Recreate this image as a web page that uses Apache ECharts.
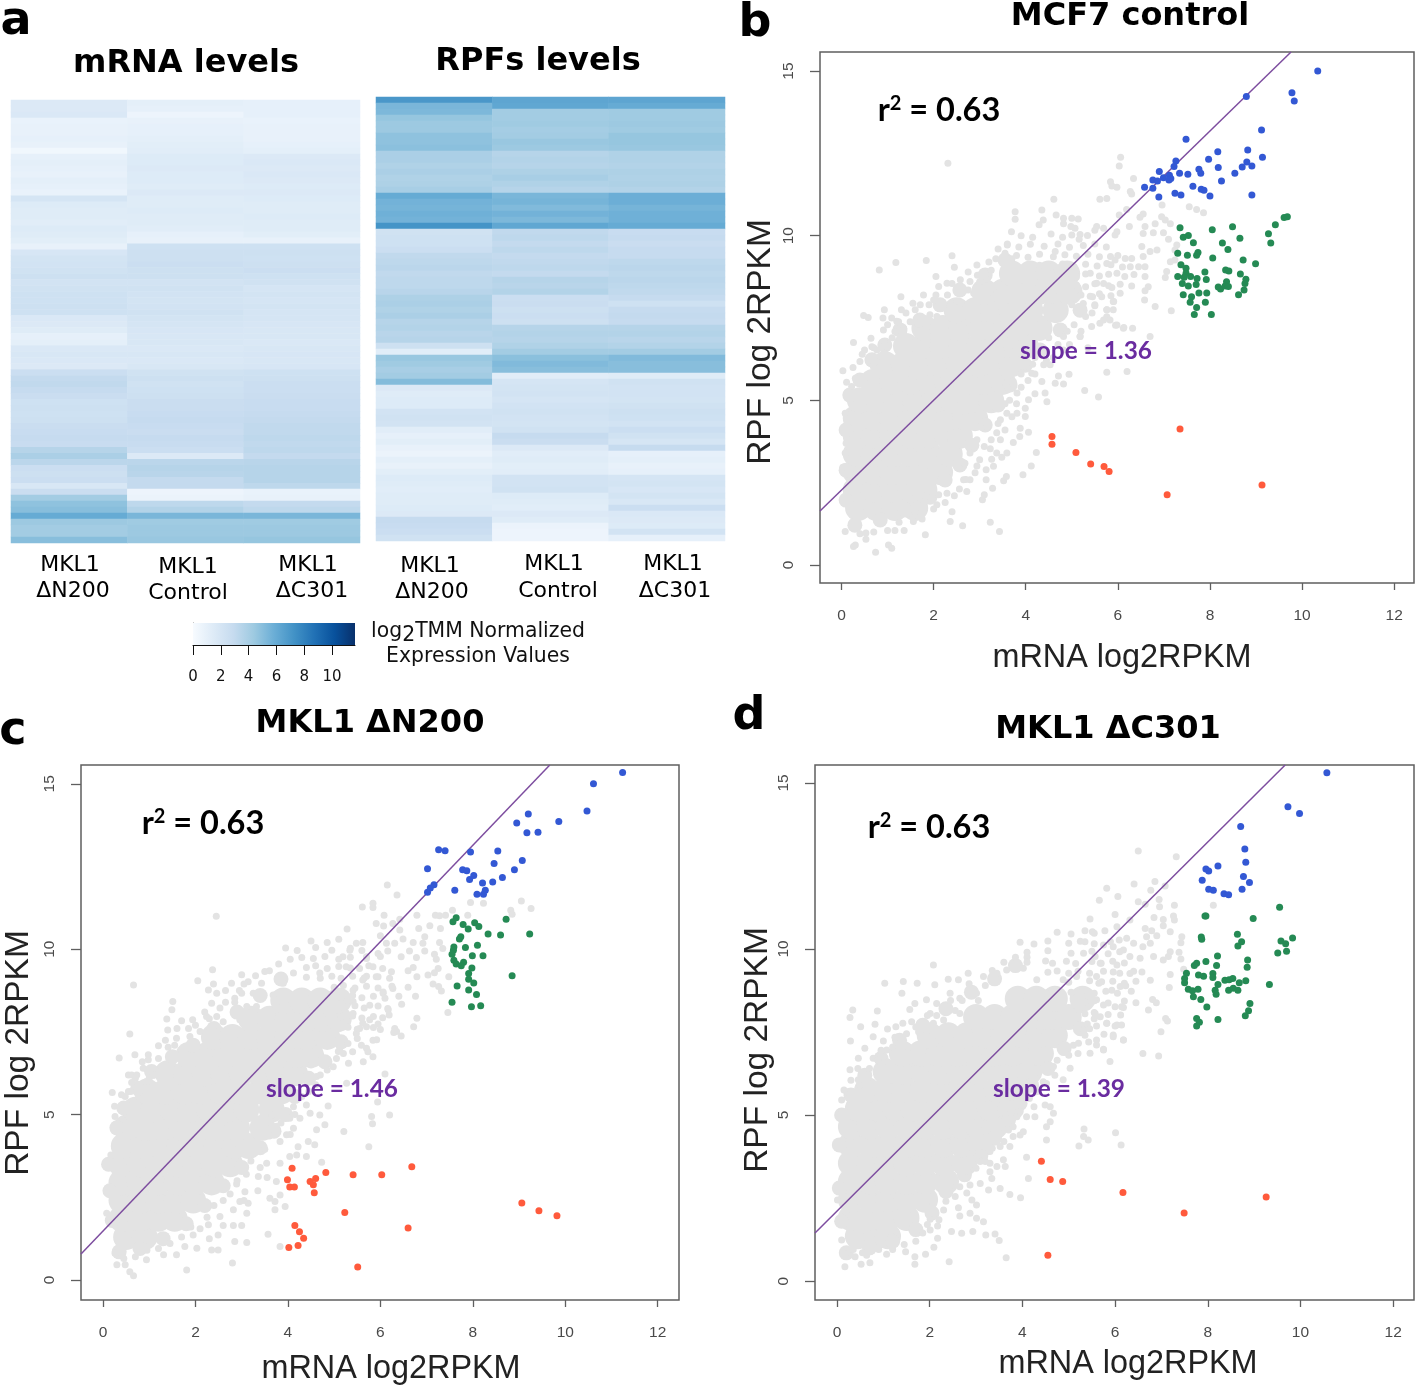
<!DOCTYPE html>
<html><head><meta charset="utf-8">
<style>html,body{margin:0;padding:0;background:#fff}#c{width:1418px;height:1387px}</style>
<script src="https://cdn.jsdelivr.net/npm/echarts@6/dist/echarts.min.js"></script>
</head><body><div id="c"></div>
<script>
// ---------- Panel a: heatmap values (rows top to bottom) ----------
const conditions = ['MKL1 ΔN200','MKL1 Control','MKL1 ΔC301'];
const mrnaN200 = [1.6,1.6,1.7,.8,.9,.9,1,.9,.4,1,1.1,1,.9,1.1,1,.8,2,1.5,1.4,1.4,1.3,1.5,1.4,1.2,.9,1.9,2.1,2.2,2.3,2.5,2.2,2.3,2.4,2.4,2.5,2.4,1.7,1.6,1.4,1,1.1,1.7,1.8,1.7,1.6,2.6,3,3.1,2.9,2.7,2.4,2.5,2.4,2.5,2.7,2.8,2.9,2.8,3.5,3.9,3.3,2.6,2.5,2.6,1.8,2.7,4.2,4.8,5,6,4.4,4.2,4.2,5];
const mrnaControl = [1.1,1,.6,.9,1,1,1.1,1.2,1.3,1.5,1.5,1.6,1.5,1.5,1.4,1.6,1.4,1.4,1.5,1.4,1.4,1.3,1,.9,2.4,2.5,2.5,2.6,2.5,2.5,2.2,2.3,2.2,2.1,2.2,2.3,2.1,2,1.9,1.8,1.8,1.7,1.8,1.7,1.8,2.3,2.5,2.3,2.4,2.5,2.7,2.7,2.8,2.9,2.8,2.7,2.9,2.8,2.6,1.6,3.3,3.5,3.4,3,3,.6,.7,3.2,3.6,5.4,4.3,4.4,4.4,4.5];
const mrnaC301 = [1,1,1,.8,.9,.9,.9,1,1.1,1.6,1.7,1.6,1.7,1.6,1.5,1.6,1.5,1.4,1.4,1.5,1.4,1.4,1.2,.9,2.4,2.5,2.4,2.5,2.6,2.4,2.3,2,2.1,2,2.1,2,2,1.9,1.8,1.8,1.7,1.8,1.9,1.8,1.9,2.4,2.5,2.6,2.6,2.7,2.8,2.8,2.9,3,3.1,3.1,3.2,3.1,3.2,3,3.4,3.5,3.5,3.5,3.2,.8,.9,3,3.2,5.4,4.3,4.4,4.4,4.6];
const rpfN200 = [7,5.4,5.3,4.6,4.4,4.4,4.8,4.8,4.9,3.9,3.9,3.7,3.9,3.7,3.8,4,6,5.6,5.5,5.7,5.6,7.2,2.3,2.4,2.4,2.6,3.1,3.2,3.3,3.1,3.2,3.2,3.4,3.8,3.9,3.7,3.9,3.5,3.6,3.4,3.5,2.5,1.3,4.5,4.3,4,4.2,5.1,1.6,1.4,1.5,1.5,2.2,2.3,2.2,1.3,1,1.2,.9,.7,1.1,.9,1.2,1.5,1.4,1.3,1.4,1.4,1.5,1.6,2.9,2.8,2.6,2.3];
const rpfControl = [6.3,6.2,4.2,4.2,4.3,4.1,4.2,4.5,4.4,3.5,3.6,3.5,3.8,4,3.7,3.5,5.4,5.5,5.2,5.6,5.3,6.2,3.1,3.2,3,3.2,3,3.1,3.2,3,3.5,3.4,3.6,2.6,2.7,2.5,2.6,2.5,3.5,3.6,3.5,3.7,4.2,4.9,5.2,5,1.3,2,2.1,2.2,2,2.2,2.3,2.2,2.1,2.3,2.9,2.7,1.6,1.3,1.4,1.2,1.3,2.2,2.2,2.3,1.5,1.4,1.3,1.6,1.4,.7,.6,.6];
const rpfC301 = [6.3,6,4.3,4.3,4.4,4.3,4.6,4.6,4.5,3.7,3.7,3.6,3.8,3.7,3.8,3.6,5.8,5.8,5.5,5.7,5.7,6,2.8,2.9,2.7,2.9,2.9,3.2,3.3,3.2,3.3,3.2,3.1,2.9,2.4,2.9,3,2.9,3.5,3.6,3.4,3.6,4.2,5.2,5,5,1.4,2.3,2.2,2.2,2.1,2.3,2.5,2.4,2.2,2.6,2.3,2,2.9,1,1.1,.9,1,2,2.1,1.9,2.1,1.8,2.6,1.7,1.6,1.5,2.2,1];
const colorbarTicks = [0,2,4,6,8,10];
const colorbarMax = 11.65;
const blues = ['#f7fbff','#deebf7','#c6dbef','#9ecae1','#6baed6','#4292c6','#2171b5','#08519c','#08306b'];

// ---------- Scatter axes ----------
const xTicks = [0,2,4,6,8,10,12];
const yTicks = [0,5,10,15];

// ---------- Panel b: MCF7 control ----------
const lineB = [[-0.467,1.64],[9.76,15.58]];
const greyCoreB = [
[1.73,[.36,.76,1.16,1.6]],[2.28,[.31,.7,1.1,1.5,1.8]],[2.82,[.31,.7,1.1,1.5,1.9,2.14]],[3.37,[.31,.7,1.1,1.5,1.9,2.35]],
[3.92,[.31,.7,1.1,1.5,1.9,2.3,2.57]],[4.46,[.31,.7,1.1,1.5,1.9,2.3,2.7,2.9]],[5,[.4,.8,1.2,1.6,2,2.4,2.8,3.25]],
[5.56,[.68,1.1,1.5,1.9,2.3,2.7,3.1,3.5]],[6.1,[.95,1.35,1.75,2.15,2.55,2.95,3.35,3.7]],[6.65,[1.4,1.8,2.2,2.6,3,3.4,3.8,4]],
[7.2,[1.8,2.2,2.6,3,3.4,3.8,4.3]],[7.74,[2.5,2.9,3.3,3.7,4.1,4.65]],[8.3,[3.1,3.5,3.9,4.3,4.7,4.95]],[8.85,[3.7,4.1,4.5,4.9]]];
const greyMidB = [[.1,4.1],[.1,2.88],[.1,1.97],[.18,5.16],[.4,5.62],[.66,6.23],[.94,6.68],[1.27,7.14],[1.7,7.44],[2.14,7.9],[2.57,8.35],[3.12,8.81],[3.55,9.26],[.29,1.21],[.84,1.37],[1.38,1.67],[1.92,2.06],[2.25,2.58],[2.57,3.04],[2.83,3.64],[3.12,4.25],[3.4,4.86],[3.66,5.47],[3.99,6.07],[4.31,6.53],[4.75,7.14],[5.18,7.74]];
const greyDotsB = [[2.31,12.2],[6.06,12.38],[6.03,12.12],[6.34,11.74],[5.84,11.64],[5.87,11.51],[5.98,11.47],[6.27,11.34],[6.3,11.27],[5.61,11.11],[5.76,11.13],[4.61,11.11],[3.77,10.73],[3.77,10.5],[3.69,10.12],[4.35,10.78],[4.66,10.63],[4.38,10.48],[4.29,10.33],[4.82,10.53],[4.82,10.36],[5,10.53],[5.14,10.51],[4.98,10.28],[5.07,10.23],[5.18,10.04],[5.16,9.89],[5.34,10.01],[5.54,10.28],[5.5,10.17],[5.69,10.23],[6.03,10.63],[6.19,10.8],[6.55,10.66],[6.48,10.56],[6.96,10.93],[7.55,10.88],[7.71,10.8],[7.86,10.7],[6.95,10.58],[7.03,10.48],[7.14,10.36],[6.81,10.36],[6.59,10.28],[6.25,10.28],[5.98,10.12],[5.94,10.02],[6.55,10.07],[6.77,10.09],[6.99,10.09],[7.1,9.89],[7.28,9.72],[7.24,9.57],[6.85,9.57],[6.52,9.67],[6.7,9.52],[6.55,9.37],[6.3,9.31],[6.16,9.31],[5.94,9.26],[5.76,9.16],[7.14,9.21],[7.24,9.26],[6.27,9.06],[6.45,9.06],[6.59,9.06],[6.59,8.76],[7.06,8.91],[7.03,8.73],[6.66,8.45],[6.59,8.33],[6.58,8.05],[6.81,7.85],[7.16,7.72],[6.05,8.25],[5.9,8],[5.87,8.43],[5.69,8.55],[5.76,7.75],[5.9,7.75],[5.76,7.54],[5.83,7.44],[5.43,7.24],[5.61,7.34],[5.95,7.28],[6.13,7.21],[6.32,7.19],[6.7,6.94],[5.18,6.94],
[.82,8.96],[1.18,9.19],[1.84,9.25],[2.4,9.39],[2.05,8.76],[2.45,9.04],[1.29,8.15],[.48,7.58],[.58,7.52],[.93,7.75],[.9,7.5],[.26,6.76],[.64,6.89],[.93,6.79],[.03,5.9],[.11,5.55],[.3,5.67],[.5,6.53],[.66,6.63],[.4,6.18],[.69,6.03],[.22,5.42],[1.09,7.5],[1.24,7.39],[1.35,7.19],[1.16,7.09],[1.49,7.39],[1.71,7.9],[1.78,8.2],[2,8.05],[2.11,8.46],[2.29,8.56],[2.58,8.66],[2.94,9.11],[3.12,8.76],[2.79,8.61],[3.37,8.25],[3.55,9.47],[2.87,8.25],[2.21,7.9],[2.5,8],[1.71,7.55],[1.92,7.6],[2.07,7.55],[.91,7.14],[.77,6.53],[.91,6.43],[.08,4.61],[.1,3.7],[.08,3.4],[.03,2.97],
[.08,1.02],[.3,.61],[.26,.56],[.74,.39],[1.02,.61],[1.09,.51],[.53,.97],[.53,.78],[1.16,1.05],[1.36,1.05],[1.82,.92],[1.56,1.32],[2.36,1.32],[2.63,1.19],[3.23,1.3],[3.43,1.02],[2.4,1.62],[2.07,1.83],[1.92,2.05],[2.11,2.13],[2.29,2.18],[2.56,2.31],[2.72,2.23],[3.06,1.98],[3.1,2.13],[3.28,2.33],[3.52,2.56],[3.58,2.69],[3.94,2.74],[4.12,3.01],[3.14,2.59],[3.14,2.89],[2.65,2.59],[2.79,2.59],[2.68,3.09],[2.94,3.01],[3.26,3.21],[3.37,3.4],[3.59,3.4],[3.23,3.53],[3.48,3.27],[4.23,3.42],[3.73,3.72],[3.87,3.9],[4.06,4.03],[3.88,4.15],[3.45,3.8],[3.37,4.02],[2.79,3.4],[2.94,3.8],[3.16,4.21],[3.45,4.41],[3.59,4.61],[3.81,4.61],[3.99,4.76],[3.99,4.51],[4.46,4.96],[4.06,5.02],[4.42,5.22],[4.2,5.2],[3.81,5.22],[3.73,5.57],[4.35,5.57],[4.64,5.52],[4.82,5.5],[4.71,5.74],[4.94,5.79],[5.28,5.3],[5.58,5.1],[5.76,5.85],[6.2,5.88],[4.13,5.82],[3.95,6.03],[4.53,6.08],[4.39,6.08],[4.31,6.48],[4.82,6.53],[5.18,6.94],[4.82,6.94],[5.69,7.44],[5.44,7.65],[5.98,7.29],[6.12,7.19],[5.65,8.15],[5.91,8],[5.76,7.75],[5.54,8.56],[5.98,8.86],[5.07,8.86],[5.4,8.86],[4.64,9.52],[5.84,9.37],
[3.9,10],[4.15,9.95],[4.55,10.05],[4.8,9.95],[5,10.02],[3.6,9.72],[3.85,9.66],[4.1,9.74],[4.4,9.68],[4.7,9.75],[4.95,9.65],[5.25,9.7],[5.5,9.75],[5.75,9.66],[3.8,9.4],[4.05,9.35],[4.3,9.44],[4.6,9.36],[4.85,9.42],[5.1,9.38],[5.35,9.44],[5.6,9.36],[6,9.4],[4.3,9.1],[4.55,9.05],[4.8,9.14],[5.05,9.06],[5.3,9.13],[5.55,9.08],[5.85,9.12],[6.1,9.05],[4.85,8.82],[5.1,8.75],[5.3,8.84],[5.6,8.78],[5.8,8.83],[6.15,8.76],[6.35,8.82],[5.1,8.5],[5.3,8.45],[5.5,8.54],[5.8,8.48],[6.05,8.53],[6.3,8.47],[5.2,8.2],[5.4,8.16],[5.6,8.24],[5.85,8.18],[5,7.9],[5.25,7.94],[5.5,7.87],
[.25,6],[.45,6.4],[.85,6.35],[1.1,6.9],[1,7.3],[1.4,7.65],[1.6,7.75],[1.9,7.9],[2.05,8.2],[2.3,8.2],[2.4,8.55],[2.75,8.9],[3,8.6],[3.25,8.95],[3.35,9.3],[.7,6.6],[1.2,7.4],[1.3,7.75],[1.55,7.95],[2.75,8.35],[2.95,8.8],[3.2,9.2],[3.7,9.3],[3.4,9.6],[3.6,9.75],
[.4,.95],[.7,1],[1,1.05],[1.25,1.3],[1.6,1.6],[1.75,1.4],[2,1.7],[2.25,1.9],[2.45,2.1],[2.7,2.6],[2.9,2.8],[3,3.2],[3.1,3.6],[3.3,3],[3.25,3.8],[3.4,4.3],[3.55,4.1],[3.7,4.5],[3.65,5],[3.9,5.4],[4.05,5.6],[4.2,5.8],[4.45,6.2],[4.6,6.3],[4.7,6.7],[4.9,7.1],[5.05,7.3],[5.3,7.55],[5.5,7.9],[5.45,8.15],[4.5,6.9],[4.95,6.7],[5.2,7.1],[5.35,6.6],[4.2,6.3],[3.55,4.9],[3.8,4.9],[3.6,5.4],[3.9,5.8],[4.15,6.1]];
const blueB = [[10.34,15],[9.78,14.34],[9.83,14.09],[8.79,14.23],[9.12,13.21],[7.48,12.93],[8.82,12.6],[8.17,12.55],[7.97,12.32],[9.14,12.38],[7.26,12.27],[7.22,12.1],[8.8,12.24],[8.91,12.12],[8.7,12.09],[8.18,12.07],[7.76,12.02],[7.8,11.9],[8.54,11.9],[6.9,11.95],[7.34,11.9],[7.52,11.87],[7.12,11.84],[7.15,11.74],[6.99,11.76],[7.11,11.69],[6.76,11.69],[6.86,11.66],[8.25,11.66],[6.58,11.47],[6.76,11.44],[7.63,11.5],[7.81,11.41],[7.87,11.38],[7.24,11.29],[7.37,11.24],[8,11.21],[6.89,11.18],[8.91,11.24]];
const greenB = [[7.35,10.24],[8.49,10.27],[8.05,10.18],[9.61,10.55],[9.68,10.58],[9.42,10.33],[9.27,10.06],[9.32,9.78],[8.65,9.92],[7.53,10.01],[7.42,9.95],[7.64,9.79],[8.27,9.78],[8.39,9.58],[7.3,9.47],[7.51,9.41],[7.74,9.49],[7.71,9.41],[8.06,9.32],[8.72,9.26],[8.99,9.15],[7.37,9.12],[7.48,9.01],[7.89,8.9],[8.34,8.96],[8.41,8.93],[8.66,8.84],[7.48,8.86],[7.3,8.76],[7.44,8.74],[7.58,8.76],[7.72,8.7],[7.92,8.67],[8.78,8.68],[8.76,8.55],[8.36,8.6],[7.4,8.55],[7.7,8.52],[7.53,8.47],[8.18,8.44],[8.23,8.38],[8.33,8.47],[8.4,8.46],[8.74,8.35],[7.76,8.26],[7.93,8.26],[7.42,8.21],[8.62,8.21],[7.6,8.15],[7.9,7.98],[7.57,7.98],[7.71,7.82],[7.66,7.61],[8.03,7.61]];
const redB = [[4.57,3.9],[4.57,3.67],[5.09,3.42],[5.41,3.07],[5.7,2.99],[5.81,2.84],[7.35,4.13],[7.07,2.13],[9.13,2.43]];

// ---------- Panel c: MKL1 ΔN200 ----------
const lineC = [[-0.476,0.786],[9.665,15.57]];
const greyCoreC = [
[1.3,[.5,.9]],[1.85,[.4,.8,1.2,1.55]],[2.4,[.4,.8,1.2,1.6,1.95]],[2.95,[.4,.8,1.2,1.6,2,2.35]],[3.5,[.4,.8,1.2,1.6,2,2.4,2.75]],
[4.05,[.45,.85,1.25,1.65,2.05,2.45,2.85,3.15]],[4.6,[.5,.9,1.3,1.7,2.1,2.5,2.9,3.45]],[5.15,[.7,1.1,1.5,1.9,2.3,2.7,3.1,3.65]],
[5.7,[.95,1.35,1.75,2.15,2.55,2.95,3.4,3.85]],[6.25,[1.4,1.8,2.2,2.6,3,3.4,3.8,4.15]],[6.8,[1.85,2.25,2.65,3.05,3.45,3.85,4.2,4.5]],
[7.35,[2.4,2.8,3.2,3.6,4,4.4,4.85]],[7.9,[3.2,3.6,4,4.4,4.75,5.1]],[8.45,[3.9,4.3,4.7,5.1]]];
const greyMidC = [[.12,3.5],[.15,2.7],[.2,1.8],[.3,4.6],[.45,5.2],[.75,5.8],[1.05,6.3],[1.5,6.75],[1.95,7.1],[2.4,7.6],[2.9,8.1],[3.4,8.6],[3.85,9.1],[.35,.85],[.8,.95],[1.3,1.25],[1.8,1.7],[2.2,2.25],[2.6,2.85],[3,3.4],[3.4,4],[3.7,4.5],[3.95,5],[4.15,5.55],[4.45,6.1],[4.8,6.6],[5.15,7.2]];
const greyDotsC = [[.66,8.92],[2.05,9.05],[2.37,9.38],[2.39,8.95],[2.28,8.77],[2.46,8.67],[2.35,8.37],[1.51,8.42],[1.49,8.17],[1.38,7.89],[1.7,7.84],[1.94,7.87],[1.4,7.56],[.58,7.44],[1.88,7.36],[1.59,7.31],[1.2,7.08],[1.41,7.04],[.35,6.71],[.69,6.81],[.98,6.81],[.98,6.66],[.87,6.4],[.62,6.2],[.55,6.2],[.73,6.2],[1.12,6.2],[.62,5.97],[.94,6],[.2,5.67],[.55,5.7],[.48,5.55],[.26,4.94],[.17,3.78],[.08,2.02],[.26,.81],[.3,.46],[.48,.46],[.58,.25],[.66,.13],[1.81,.3],[2.8,.51],[.94,.61],[1.31,.76],[1.59,.76],[1.77,1.01],[2.03,.96],[2.35,.91],[2.49,.91],[2.85,1.16],[3.11,1.13],[3.83,1.01],[2.49,1.36],[1.95,1.36],[2.82,1.65],[3,1.65],[3.57,1.38],[2.53,1.92],[2.82,2.12],[3.14,2.32],[3.11,2.02],[2.96,2.37],[2.28,1.67],[3.61,2.47],[3.72,2.37],[3.72,2.12],[3.94,2.22],[3.83,2.57],[3.75,2.98],[3.36,3.13],[3.07,2.67],[2.89,2.9],[3.54,3.53],[3.83,3.53],[4.04,3.73],[4.19,3.78],[4.73,3.56],[4.4,3.73],[4.22,4.03],[4.44,4.19],[4.58,4.09],[3.83,4.19],[3.97,4.39],[4.12,4.59],[4.62,4.54],[4.8,4.69],[5.21,4.49],[5.75,4.03],[5.81,4.94],[5.83,4.72],[6.2,4.99],[5.94,5.38],[4.87,5.26],[4.69,4.99],[4.48,5.04],[4.04,4.89],[4.26,4.89],[4.4,5.29],[3.65,4.99],[4.12,5.24],[5.27,5.95],[6.1,6.23],[5.63,6.6],[5.31,6.55],[5.09,6.91],[4.98,6.45],[4.62,6.15],[5.7,7.01],[5.92,7.26],[6.35,7.51],[5.77,7.87],[6.17,8.17],[6.06,8.67],[5.41,8.42],[5.7,9.18],[4.98,8.62],[4.69,9.28],[4.12,9.28],[3.9,8.97],[3.5,9.33],[3,9.23],[2.78,8.97],[3,8.67],[3.14,9.02],[3.43,8.97],[3.25,8.67],[3.68,8.62],[2.85,8.52],[2.53,8.22],[2.46,7.97],[2.24,7.97],[2.6,7.81],[2.1,7.51],[2.39,7.56],[3.11,8.27],[3.32,8.27],[3.75,8.37],[2.96,7.87],
[2.45,11],[6.15,11.94],[6.36,11.64],[5.61,11.28],[5.84,11.39],[5.84,11.26],[6.08,11.03],[6.42,10.91],[6.79,11.03],[7.19,11.03],[7.28,11.01],[7.41,11.03],[7.56,11.18],[7.89,11.03],[7.95,11.41],[8.23,11.39],[9.05,11.46],[9.26,11.23],[8.82,11.18],[8.85,11.06],[5.28,10.61],[5.91,10.78],[6.07,10.7],[6.27,10.78],[6.42,10.58],[6.83,10.63],[7.07,10.71],[7.3,10.63],[6,10.41],[6.96,10.38],[6.49,10.31],[6.71,10.2],[6.92,10.18],[7.28,10.2],[5.48,10.18],[5.62,10.2],[6.13,10.18],[6.31,10.18],[7.35,10.02],[6.63,9.95],[6.96,9.95],[7.17,9.85],[7.21,9.7],[6.78,9.75],[6.45,9.77],[5.19,9.77],[6.16,9.95],[5.95,9.87],[5.7,9.77],[5.34,9.97],[6.71,9.45],[6.6,9.35],[6.24,9.32],[7.25,9.42],[7.17,9.29],[7.03,9.22],[7.48,9.17],[6.79,9.17],[7.14,8.95],[7.26,8.87],[7.32,8.74],[6.6,8.85],[6.27,8.81],[6.06,8.71],[6.76,8.58],[6.46,8.34],[6.16,8.21],[6.19,8.01],[7.46,8.09],[6.79,7.91],[6.72,7.66],[5.95,7.74],[6,7.57],[6.31,7.6],[6.29,7.48],[6.45,7.38],[5.62,7.76],[5.7,7.66],[5.48,7.45],[5.84,7.25],[5.59,7.1],[5.73,6.9],[5.84,6.75],[5.12,6.95],[5.41,8.06],[5.77,8.31],[5.41,8.76],[5.91,9.17],[5.62,9.07],[5.26,9.47],[5.55,9.42],[5.84,9.47],
[.25,5.25],[.4,5.6],[.7,6.1],[.85,6.6],[1.2,6.7],[1.35,7.25],[1.6,7.6],[1.85,7.6],[2,7.7],[2.2,8.1],[2.65,8.4],[2.85,8.4],[3.05,8.95],[3.3,9.2],[3.6,9.35],[3.8,9.55],[4.05,9.7],[4.3,9.75],[.6,5.7],[1,6.1],[1.55,7.1],[2.3,7.9],[2.65,8.75],[2.95,8.75],
[4.5,10.25],[4.85,10.2],[5.1,10.3],[3.95,10.04],[4.2,9.96],[4.6,10.05],[4.95,9.97],[5.35,10.03],[5.6,9.96],[4.55,9.72],[4.8,9.78],[5.1,9.7],[5.35,9.76],[5.7,9.72],[6,9.78],[4.4,9.45],[4.6,9.5],[4.85,9.42],[5.1,9.48],[5.35,9.43],[5.75,9.5],[6.05,9.42],[4.4,9.15],[4.7,9.12],[4.95,9.18],[5.15,9.12],[5.4,9.18],[5.65,9.13],[5.95,9.17],[6.2,9.12],[5,8.85],[5.2,8.9],[5.45,8.83],[5.7,8.88],[5.95,8.83],[6.25,8.88],[5.15,8.55],[5.4,8.6],[5.6,8.53],[5.85,8.58],[6.1,8.52],[6.4,8.58],[5.2,8.25],[5.45,8.29],[5.65,8.22],[5.95,8.28],[5.15,7.95],[5.4,7.98],[5.6,7.92],[5.85,7.97],[6.05,7.93],[5.1,7.6],[5.3,7.64],[5.5,7.58],[5.85,7.63],
[.45,.65],[.7,.7],[.95,.9],[1.2,.95],[1.45,1.1],[1.7,1.3],[1.9,1.6],[2.1,1.55],[2.25,1.9],[2.4,2.25],[2.6,2.4],[2.75,2.6],[2.9,3],[3.1,3.2],[3.2,3.6],[3.4,3.4],[3.5,3.95],[3.6,4.35],[3.75,4.65],[3.85,4.75],[4.15,5],[4.3,5.55],[4.45,5.7],[4.6,5.9],[4.7,6.2],[4.85,6.35],[5.05,6.7],[5.2,6.85],[5.3,7.15],[3.9,5.6],[4.5,6.5],[5.5,7.3],[5.4,6.9],[5.55,7.6],[4.05,4.4],[3.55,3.1],[3.35,2.7],[3.05,2.4],[2.6,1.65],[2.3,1.25]];
const blueC = [[11.24,15.34],[10.61,15],[10.47,14.18],[9.86,13.86],[9.2,14.09],[8.95,13.82],[9.17,13.52],[9.41,13.54],[7.26,13.01],[7.4,12.98],[7.95,12.94],[8.54,12.97],[8.46,12.59],[9.07,12.68],[8.9,12.4],[7.02,12.43],[7.78,12.4],[7.87,12.37],[8.02,12.23],[7.93,12.11],[8.64,12.17],[8.43,12.03],[8.21,12],[7.16,11.95],[7.08,11.85],[7.02,11.72],[7.61,11.78],[8.27,11.78],[8.23,11.66],[8.09,11.66]];
const greenC = [[7.64,10.95],[7.57,10.83],[7.79,10.75],[8.04,10.8],[8.13,10.69],[7.9,10.61],[8.72,10.91],[8.33,10.46],[8.6,10.43],[9.23,10.46],[7.74,10.38],[7.71,10.31],[8.1,10.12],[7.59,10.07],[7.84,10.05],[7.58,9.97],[7.55,9.85],[7.99,9.8],[8.22,9.8],[7.59,9.67],[7.64,9.55],[7.8,9.61],[7.75,9.5],[7.98,9.43],[7.91,9.27],[7.91,9.09],[8.85,9.2],[8.02,8.98],[7.66,8.89],[7.91,8.77],[8.08,8.63],[7.55,8.4],[7.97,8.26],[8.17,8.29]];
const redC = [[4.09,3.38],[3.99,3.03],[4.04,2.81],[4.14,2.81],[4.48,2.98],[4.6,3.07],[4.55,2.88],[4.57,2.64],[4.82,3.25],[5.41,3.18],[6.03,3.18],[5.23,2.04],[4.15,1.65],[4.25,1.46],[4.34,1.26],[4.22,1.04],[4.02,.98],[5.51,.39],[6.68,3.42],[6.6,1.57],[9.06,2.33],[9.43,2.09],[9.82,1.94]];

// ---------- Panel d: MKL1 ΔC301 ----------
const lineD = [[-0.475,1.446],[9.67,15.54]];
const greyCoreD = [
[1.35,[.45,.85,1.1]],[1.9,[.3,.7,1.1,1.5]],[2.45,[.3,.7,1.1,1.5,1.9]],[3,[.3,.7,1.1,1.5,1.9,2.35]],[3.55,[.3,.7,1.1,1.5,1.9,2.3,2.75]],
[4.1,[.3,.7,1.1,1.5,1.9,2.3,2.7,3.1]],[4.65,[.3,.7,1.1,1.5,1.9,2.3,2.7,3.05,3.4]],[5.2,[.45,.85,1.25,1.65,2.05,2.45,2.85,3.3,3.75]],
[5.75,[.65,1.05,1.45,1.85,2.25,2.65,3.05,3.45,3.9]],[6.3,[1.05,1.45,1.85,2.25,2.65,3.05,3.45,3.85,4.15]],[6.85,[1.4,1.8,2.2,2.6,3,3.4,3.8,4.15,4.4]],
[7.4,[2,2.4,2.8,3.2,3.6,4,4.35,4.7]],[7.95,[3,3.4,3.8,4.2,4.6,5]],[8.5,[3.9,4.3,4.7,5.3]]];
const greyMidD = [[.05,4.1],[.05,2.8],[.1,1.8],[.1,5],[.3,5.6],[.6,6.2],[.95,6.7],[1.35,7.25],[1.85,7.7],[2.35,8.2],[2.9,8.7],[3.4,9.1],[3.85,9.5],[.2,.85],[.7,1],[1.2,1.2],[1.7,1.55],[2.05,2.05],[2.35,2.7],[2.75,3.2],[3.1,3.75],[3.4,4.3],[3.7,4.85],[3.95,5.35],[4.2,5.9],[4.55,6.4],[4.9,7],[5.25,7.6]];
const greyDotsD = [[1.03,8.97],[1.43,9.02],[1.73,8.97],[1.4,8.67],[2.08,9.52],[2.11,8.92],[2.4,9.09],[2.62,9.07],[2.83,9.27],[3.16,9.17],[3.45,9.27],[.34,8.16],[.28,7.94],[.87,8.13],[.51,7.66],[.82,7.73],[1.09,7.59],[1.27,7.66],[1.42,7.76],[1.61,7.81],[.29,7.23],[.78,7.36],[1.25,7.34],[1,7.23],[.6,7.01],[1.07,6.96],[1.57,8.18],[1.68,8.36],[1.93,8.47],[2.15,8.36],[2.01,8.06],[2.44,8.67],[2.65,8.52],[3.01,8.67],[2.37,8.11],[2.65,8.06],[1.76,7.51],[2.08,7.76],[2.3,7.86],[1.93,7.41],[.46,6.71],[.78,6.71],[.89,6.66],[.28,6.36],[.46,6.06],[.21,5.7],[.1,5.45],[.06,5],[.01,2.44],[.1,1.24],[.17,.83],[.17,.43],[.39,.73],[.52,.51],[.71,.55],[.64,.78],[1.07,.81],[1.48,.88],[1.68,.73],[1.68,.51],[1.91,.81],[2.42,.58],[3.65,.7],[2.09,1.02],[2.17,1.29],[2.01,1.54],[2.47,1.49],[2.69,1.44],[2.93,1.49],[3.21,1.39],[3.41,1.42],[3.5,1.22],[2.17,1.66],[2.65,1.96],[2.01,1.86],[2.3,2.14],[2.04,2.24],[2.62,2.21],[2.87,2.04],[3.01,1.89],[3.16,1.79],[2.91,2.44],[3.01,2.29],[2.65,2.84],[2.87,2.89],[3.09,2.94],[3.27,2.74],[3.52,2.79],[3.73,2.61],[3.96,2.51],[4.13,3.09],[4.09,3.73],[3.34,3.09],[3.3,3.29],[3.45,3.45],[3.63,3.45],[3.59,3.65],[3.09,3.6],[3.05,3.8],[3.3,3.9],[3.52,4.05],[3.73,4.05],[3.95,4.4],[3.8,4.35],[4.02,4.5],[3.52,4.45],[4.52,4.25],[4.52,4.65],[4.6,4.8],[5.33,4.58],[5.32,4.35],[5.42,4.25],[5.22,4.07],[6.01,4.47],[6.13,4.1],[4.27,4.95],[4.67,5.05],[4.49,5.3],[4.6,5.25],[4.09,4.95],[3.88,4.95],[4.88,6.06],[5.03,6.41],[5.89,6.61],[4.67,6.46],[4.52,5.95],[5.46,6.86],[5.75,6.96],[5.21,7.16],[5.6,7.26],[6.18,7.26],[5.96,7.41],[5.82,7.76],[6.04,7.71],[5.6,8.47],[5.24,8.16],[5.68,7.96],[6.14,8.26],[4.88,9.07],[5.17,9.17],[4.52,8.67],[4.31,9.07],[4.02,9.42],[5.6,9.17],[3.66,9.37],[6.11,8.87],
[6.5,12.95],[7.32,12.78],[6.86,12.03],[6.41,11.96],[5.82,11.83],[6.06,11.58],[5.66,11.47],[6.77,11.77],[7.08,11.9],[6.95,11.49],[6.5,11.42],[6.65,11.35],[6.96,11.27],[7.28,11.32],[8.12,11.32],[6,11.04],[5.46,10.9],[6.32,10.87],[6.84,10.95],[7.04,10.89],[7.26,10.99],[7.28,10.87],[7.04,10.7],[6.65,10.62],[6.04,10.67],[5.78,10.55],[5.51,10.52],[7.19,10.52],[6.79,10.55],[6.9,10.4],[6.68,10.37],[6.25,10.32],[6.09,10.27],[7.44,10.37],[7.42,10.19],[5.35,10.22],[6.76,10.17],[6.6,10.07],[6.4,10.17],[5.75,10.12],[5.96,10.07],[6.18,9.97],[7.38,9.9],[7.19,9.92],[6.83,9.77],[7.04,9.67],[7.15,9.77],[7.42,9.7],[6.54,9.72],[6.32,9.77],[5.32,9.87],[5.57,9.77],[6.04,9.52],[5.68,9.57],[6.58,9.31],[6.32,9.26],[5.96,9.31],[7.19,9.23],[6.76,9.06],[7.48,9.39],[6.23,8.89],[5.93,8.76],[5.71,9.01],[7.17,8.84],[6.81,8.48],[6.89,8.38],[6.72,8.16],[6.18,8.24],[6,8.26],[5.75,8.31],[6.12,8.01],[5.57,8.06],[7.09,7.91],[7.13,7.83],[6.14,7.71],[6,7.68],[5.82,7.76],[6.99,7.51],[5.76,7.43],[5.96,7.36],[6.18,7.26],[5.33,7.56],[5.6,7.11],[5.75,6.98],[6.6,6.85],[6.94,6.78],[5.43,7.2],
[.15,5.75],[.3,6.05],[.45,6.4],[.7,6.4],[.95,6.95],[1.2,7.05],[1.5,7.45],[1.7,7.65],[1.95,8],[2.15,8],[2.45,8.45],[2.7,8.45],[2.85,8.95],[3.2,8.9],[3.35,9.35],[3.6,9.6],[3.85,9.75],[4.1,9.75],[.5,5.9],[1.1,6.6],[1.55,7.05],[2.55,8.15],[3.05,8.45],
[4.75,10.5],[5.05,10.45],[5.35,10.55],[5.55,10.47],[3.95,10.2],[4.25,10.15],[4.55,10.24],[5,10.17],[5.25,10.23],[5.55,10.16],[5.9,10.22],[4.1,9.9],[4.55,9.95],[5.05,9.87],[5.5,9.93],[5.85,9.86],[6.1,9.92],[4.1,9.6],[4.5,9.64],[4.65,9.57],[4.95,9.63],[5.15,9.56],[5.5,9.62],[5.7,9.57],[5.95,9.63],[6.2,9.58],[4.55,9.3],[4.75,9.34],[5,9.27],[5.2,9.33],[5.45,9.27],[5.75,9.33],[6.1,9.27],[6.4,9.33],[5,9],[5.45,9.04],[5.65,8.97],[5.95,9.03],[6.2,8.97],[6.45,9.03],[5.05,8.7],[5.3,8.74],[5.55,8.67],[5.8,8.73],[6.05,8.67],[6.35,8.73],[5.35,8.4],[5.55,8.44],[5.85,8.37],[6.2,8.43],[6.45,8.38],[5.35,8.05],[5.55,8.09],[5.85,8.03],[5.2,7.7],[5.4,7.74],[5.6,7.68],
[.35,.95],[.55,.85],[.9,.95],[1.2,.95],[1.45,1.1],[1.7,1.2],[1.85,1.45],[1.95,1.7],[2.2,1.85],[2.35,2.4],[2.55,2.55],[2.55,3],[2.8,3.1],[3,3.4],[3.2,3.6],[3.35,4],[3.6,4.2],[3.7,4.55],[3.75,5.05],[3.95,5.1],[4.15,5.5],[4.3,5.7],[4.45,6],[4.7,6.2],[4.75,6.65],[5,6.8],[5.1,7.1],[5.35,7.4],[5.2,6.85],[5.45,7.6],[4.35,6.3],[2.8,2.65],[3.3,3.55],[3.8,4.65],[4.25,5.25],[5.55,7.9]];
const blueD = [[10.57,15.31],[9.73,14.28],[9.98,14.08],[8.71,13.69],[8.8,13.01],[8.82,12.61],[8.22,12.5],[7.96,12.41],[8.02,12.35],[8.77,12.18],[7.88,12.07],[8.9,12],[8.74,11.8],[8.02,11.8],[8.12,11.77],[8.35,11.66],[8.45,11.63]];
const greenD = [[9.55,11.26],[7.94,10.99],[7.96,10.99],[8.98,10.92],[8.64,10.44],[7.86,10.36],[7.87,10.29],[8.73,10.22],[8.65,10.09],[9.83,10.33],[9.58,10.24],[9.68,10.16],[9.7,9.93],[9.51,9.88],[8.21,9.79],[8.86,9.67],[7.96,9.62],[7.76,9.57],[7.71,9.5],[8.19,9.5],[8.85,9.45],[7.54,9.27],[7.8,9.22],[7.91,9.18],[8.11,9.26],[8.11,9.14],[7.5,9.11],[7.5,8.98],[8.37,9.06],[8.46,9.07],[8.54,9.11],[8.68,8.98],[8.82,9.04],[9.33,8.93],[8.22,8.93],[8.16,8.76],[8.18,8.64],[7.79,8.79],[7.58,8.79],[7.67,8.74],[8.45,8.76],[8.55,8.82],[8.65,8.76],[7.69,8.56],[7.85,8.48],[8.91,8.36],[7.98,8.25],[8.88,8.14],[8.81,7.99],[7.76,7.91],[7.82,7.79],[7.76,7.68],[8.22,7.88]];
const redD = [[4.41,3.61],[4.6,3.06],[4.87,3],[6.17,2.67],[4.55,.78],[7.49,2.05],[9.26,2.53]];

// ---------- Build ----------
const chart = echarts.init(document.getElementById('c'), null, {renderer:'canvas'});
const grids=[], xAxes=[], yAxes=[], series=[], graphics=[];

function expandRows(rows){ return rows.flatMap(r => r[1].map(x => [x, r[0]])); }

function heatPanel(cols, box){
  const g = grids.length;
  grids.push({left:box.x, top:box.y, width:box.w, height:box.h, show:false});
  const rows = cols[0].map((_,i)=>'r'+i);
  xAxes.push({gridIndex:g, type:'category', data:conditions, show:false});
  yAxes.push({gridIndex:g, type:'category', data:rows, inverse:true, show:false});
  const data=[];
  cols.forEach((c,ci)=>c.forEach((v,ri)=>data.push([ci,ri,v])));
  series.push({type:'heatmap', xAxisIndex:g, yAxisIndex:g, data, itemStyle:{borderWidth:0}, emphasis:{disabled:true}, silent:true, animation:false, progressive:0});
}

function scatterPanel(p){
  const g = grids.length;
  grids.push({left:p.x, top:p.y, width:p.w, height:p.h, show:true, borderColor:'#5f5f5f', borderWidth:1.5, backgroundColor:'#fff'});
  xAxes.push({gridIndex:g, type:'value', min:p.xr[0], max:p.xr[1], splitLine:{show:false}, axisLine:{show:false,onZero:false},
    axisTick:{show:true, length:7, customValues:xTicks, lineStyle:{color:'#5f5f5f', width:1.3}},
    axisLabel:{show:true, customValues:xTicks, margin:25, color:'#4a4a4a', fontSize:15.5, fontFamily:'Liberation Sans', showMinLabel:true, showMaxLabel:true}});
  yAxes.push({gridIndex:g, type:'value', min:p.yr[0], max:p.yr[1], splitLine:{show:false}, axisLine:{show:false,onZero:false},
    axisTick:{show:true, length:10, customValues:yTicks, lineStyle:{color:'#5f5f5f', width:1.3}},
    axisLabel:{show:true, customValues:yTicks, rotate:90, margin:23, color:'#4a4a4a', fontSize:15.5, fontFamily:'Liberation Sans'}});
  const common = {type:'scatter', xAxisIndex:g, yAxisIndex:g, animation:false, silent:true, large:false};
  series.push({...common, name:'grey core', data:expandRows(p.core), symbolSize:26, itemStyle:{color:'#e3e3e3',opacity:1}, z:2});
  series.push({...common, name:'grey mid', data:p.mid, symbolSize:15, itemStyle:{color:'#e3e3e3',opacity:1}, z:2});
  series.push({...common, name:'grey', data:p.dots, symbolSize:7, itemStyle:{color:'#e3e3e3',opacity:1}, z:2});
  series.push({type:'line', xAxisIndex:g, yAxisIndex:g, data:p.line, showSymbol:false, symbol:'none', lineStyle:{color:'#7d4d9f', width:1.5}, animation:false, silent:true, z:3});
  series.push({...common, name:'blue', data:p.blue, symbolSize:7, itemStyle:{color:'#3358d4',opacity:1}, z:4});
  series.push({...common, name:'green', data:p.green, symbolSize:7, itemStyle:{color:'#258a54',opacity:1}, z:4});
  series.push({...common, name:'red', data:p.red, symbolSize:7, itemStyle:{color:'#ff5a3c',opacity:1}, z:4});
}

heatPanel([mrnaN200,mrnaControl,mrnaC301],{x:11,y:100,w:349,h:443});
heatPanel([rpfN200,rpfControl,rpfC301],{x:376,y:97,w:349,h:444});

scatterPanel({x:820,y:52,w:594,h:531,xr:[-0.467,12.43],yr:[-0.547,15.58],core:greyCoreB,mid:greyMidB,dots:greyDotsB,line:lineB,blue:blueB,green:greenB,red:redB});
scatterPanel({x:81,y:765,w:598,h:535,xr:[-0.476,12.46],yr:[-0.605,15.57],core:greyCoreC,mid:greyMidC,dots:greyDotsC,line:lineC,blue:blueC,green:greenC,red:redC});
scatterPanel({x:815,y:765,w:599,h:535,xr:[-0.475,12.45],yr:[-0.57,15.54],core:greyCoreD,mid:greyMidD,dots:greyDotsD,line:lineD,blue:blueD,green:greenD,red:redD});

// colour bar
{
  const g = grids.length;
  grids.push({left:193, top:623, width:162, height:22, show:false});
  xAxes.push({gridIndex:g, type:'value', min:0, max:colorbarMax, splitLine:{show:false},
    axisLine:{show:true, onZero:false, lineStyle:{color:'#111', width:1}},
    axisTick:{show:true, length:10, customValues:colorbarTicks, lineStyle:{color:'#111', width:1}},
    axisLabel:{show:true, customValues:colorbarTicks, margin:25, color:'#111', fontSize:15, fontFamily:'DejaVu Sans'}});
  yAxes.push({gridIndex:g, type:'category', data:['scale'], axisLine:{show:true, onZero:false, lineStyle:{color:'#777'}}, axisTick:{show:false}, axisLabel:{show:false}});
  series.push({type:'bar', xAxisIndex:g, yAxisIndex:g, data:[colorbarMax], barWidth:'100%', animation:false, silent:true,
    itemStyle:{color:new echarts.graphic.LinearGradient(0,0,1,0, blues.map((c,i)=>({offset:i/(blues.length-1), color:c})))}});
}

function txt(text,x,y,font,opt){
  graphics.push(Object.assign({type:'text', x, y, silent:true, z:50,
    style:Object.assign({text, font, fill:(opt&&opt.fill)||'#000', textAlign:(opt&&opt.align)||'center', textVerticalAlign:'middle'}, (opt&&opt.style)||{})},
    (opt&&opt.rotation!=null)?{rotation:opt.rotation}:{}));
}
const sansB = '"DejaVu Sans"', arial='"Liberation Sans"';
// panel letters
txt('a',16,22,`bold 46px ${sansB}`); txt('b',755,24,`bold 46px ${sansB}`);
txt('c',13,732,`bold 46px ${sansB}`); txt('d',749,717,`bold 46px ${sansB}`);
// titles
const T=`bold 32px ${sansB}`;
txt('mRNA levels',186,64,T); txt('RPFs levels',538,62,T);
txt('MCF7 control',1130,17,T); txt('MKL1 ΔN200',370,724,T); txt('MKL1 ΔC301',1108,730,T);
// heat column labels
const L=`22px ${sansB}`;
[['MKL1',70,565],['ΔN200',73,591],['MKL1',188,567],['Control',188,593],['MKL1',308,565],['ΔC301',312,591],
 ['MKL1',430,566],['ΔN200',432,592],['MKL1',554,564],['Control',558,591],['MKL1',673,564],['ΔC301',675,591]]
 .forEach(a=>txt(a[0],a[1],a[2],L));
// colour bar caption
graphics.push({type:'text',x:478,y:632,silent:true,z:50,style:{text:'{a|log}{s|2}{a|TMM Normalized}',align:'center',textAlign:'center',textVerticalAlign:'middle',
  rich:{a:{font:`20.4px ${sansB}`,fill:'#111'},s:{font:`20.4px ${sansB}`,fill:'#111',padding:[8,0,0,0]}}}});
txt('Expression Values',478,657,`20.4px ${sansB}`,{fill:'#111'});
// axis titles
const A=`32.4px ${arial}`, AF={fill:'#222'};
txt('mRNA log2RPKM',1122,658,A,AF); txt('mRNA log2RPKM',391,1369,A,AF); txt('mRNA log2RPKM',1128,1364,A,AF);
[[761,342],[19,1053],[758,1050]].forEach(p=>txt('RPF log 2RPKM',p[0],p[1],`33.5px ${arial}`,{fill:'#222',rotation:Math.PI/2}));
// r2 + slope
[[939,111],[203,824],[929,828]].forEach(p=>{
  graphics.push({type:'text',x:p[0],y:p[1],silent:true,z:50,style:{text:'{a|r}{s|2}{a| = 0.63}',textAlign:'center',textVerticalAlign:'middle',
    rich:{a:{font:`bold 32.5px Lato`,fill:'#000'},s:{font:`bold 20px Lato`,fill:'#000',padding:[0,0,14,0]}}}});
});
const S=`bold 24.4px Lato`, SF={fill:'#6a2ca0'};
txt('slope = 1.36',1086,351,S,SF); txt('slope = 1.46',332,1089,S,SF); txt('slope = 1.39',1059,1089,S,SF);

chart.setOption({
  animation:false,
  backgroundColor:'#fff',
  grid:grids, xAxis:xAxes, yAxis:yAxes, series,
  visualMap:{show:false, type:'continuous', min:0, max:colorbarMax, seriesIndex:[0,1], dimension:2, inRange:{color:blues}},
  graphic:graphics
});
</script></body></html>
